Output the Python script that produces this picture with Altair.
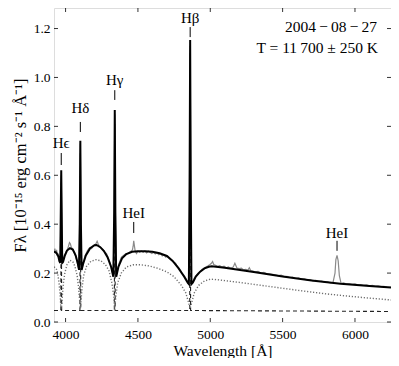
import altair as alt
import pandas as pd

# ---- data ----
model_wave = [3920, 3935, 3950, 3958, 3963, 3966, 3970, 3974, 3977, 3983, 3995, 4010, 4030, 4050,
              4070, 4085, 4093, 4098, 4102, 4106, 4111, 4120, 4140, 4170, 4200, 4214, 4240, 4265,
              4290, 4315, 4330, 4336, 4340, 4344, 4350, 4365, 4390, 4420, 4460, 4500, 4550, 4600,
              4650, 4700, 4740, 4780, 4820, 4845, 4852, 4857, 4861, 4865, 4870, 4880, 4900, 4930,
              4960, 4990, 5010, 5100, 5300, 5500, 5700, 5900, 6100, 6249]
model_flux = [0.288, 0.284, 0.268, 0.248, 0.242, 0.40, 0.621, 0.40, 0.242, 0.246, 0.272, 0.292,
              0.302, 0.296, 0.272, 0.238, 0.213, 0.40, 0.741, 0.40, 0.213, 0.235, 0.272, 0.302,
              0.314, 0.315, 0.306, 0.29, 0.265, 0.225, 0.185, 0.45, 0.867, 0.45, 0.185, 0.225,
              0.26, 0.278, 0.287, 0.289, 0.289, 0.287, 0.281, 0.27, 0.25, 0.22, 0.185, 0.16,
              0.155, 0.55, 1.153, 0.55, 0.155, 0.162, 0.186, 0.206, 0.219, 0.226, 0.228, 0.222,
              0.204, 0.186, 0.170, 0.156, 0.147, 0.141]

star_wave = [3920, 3935, 3945, 3955, 3962, 3966, 3970, 3974, 3978, 3985, 3995, 4010, 4030, 4050,
             4065, 4080, 4090, 4097, 4102, 4107, 4114, 4125, 4145, 4175, 4210, 4245, 4275, 4300,
             4320, 4332, 4340, 4348, 4360, 4385, 4420, 4470, 4520, 4580, 4640, 4700, 4750, 4800,
             4830, 4850, 4861, 4872, 4890, 4920, 4960, 5000, 5050, 5200, 5400, 5600, 5800, 6000,
             6249]
star_flux = [0.225, 0.22, 0.2, 0.16, 0.11, 0.07, 0.055, 0.07, 0.11, 0.16, 0.2, 0.235, 0.252, 0.247,
             0.227, 0.19, 0.14, 0.09, 0.055, 0.09, 0.14, 0.19, 0.228, 0.248, 0.255, 0.25, 0.235,
             0.21, 0.16, 0.11, 0.055, 0.11, 0.16, 0.2, 0.225, 0.234, 0.234, 0.229, 0.219, 0.205,
             0.185, 0.15, 0.12, 0.08, 0.055, 0.08, 0.12, 0.15, 0.168, 0.175, 0.173, 0.162, 0.146,
             0.130, 0.115, 0.103, 0.09]

disc_wave = [3920, 3967, 3970, 3973, 4099, 4102, 4105, 4337, 4340, 4343, 4858, 4861, 4864, 6249]
disc_flux = [0.047, 0.047, 0.57, 0.047, 0.047, 0.69, 0.047, 0.047, 0.81, 0.047, 0.047, 1.10,
             0.047, 0.043]

obs_wave = [3920, 3926, 3932, 3938, 3944, 3950, 3955, 3960, 3964, 3967, 3970, 3973, 3976, 3980,
            3986, 3992, 3998, 4005, 4012, 4020, 4027, 4033, 4040, 4047, 4055, 4062, 4070, 4078,
            4085, 4091, 4096, 4102, 4107, 4112, 4118, 4126, 4134, 4142, 4150, 4160, 4170, 4180,
            4190, 4200, 4210, 4218, 4225, 4233, 4242, 4252, 4262, 4272, 4283, 4293, 4303, 4313,
            4322, 4330, 4335, 4340, 4345, 4350, 4358, 4367, 4376, 4386, 4396, 4407, 4418, 4430,
            4442, 4454, 4462, 4467, 4471, 4476, 4481, 4490, 4500, 4512, 4524, 4536, 4548, 4560,
            4572, 4584, 4596, 4608, 4620, 4632, 4644, 4656, 4668, 4680, 4692, 4705, 4718, 4730,
            4745, 4760, 4775, 4790, 4805, 4820, 4835, 4846, 4852, 4856, 4861, 4866, 4870, 4878,
            4890, 4902, 4915, 4928, 4942, 4956, 4970, 4985, 4998, 5008, 5016, 5024, 5036, 5050,
            5065, 5080, 5095, 5110, 5125, 5140, 5155, 5164, 5170, 5176, 5185, 5200, 5215, 5230,
            5245, 5260, 5270, 5280, 5295, 5310, 5330, 5350, 5370, 5390, 5410, 5430, 5450, 5470,
            5490, 5510, 5530, 5550, 5570, 5590, 5610, 5630, 5650, 5670, 5690, 5710, 5730, 5750,
            5770, 5790, 5810, 5830, 5848, 5862, 5868, 5876, 5884, 5892, 5904, 5920, 5940, 5960,
            5980, 6000, 6020, 6040, 6060, 6080, 6100, 6120, 6140, 6160, 6180, 6200, 6220, 6249]
obs_flux = [0.285, 0.30, 0.28, 0.295, 0.27, 0.28, 0.255, 0.24, 0.26, 0.45, 0.60, 0.45, 0.25, 0.24,
            0.26, 0.275, 0.28, 0.29, 0.295, 0.31, 0.325, 0.32, 0.305, 0.30, 0.29, 0.285, 0.265,
            0.25, 0.23, 0.215, 0.35, 0.73, 0.35, 0.215, 0.23, 0.25, 0.27, 0.28, 0.29, 0.30, 0.305,
            0.30, 0.31, 0.315, 0.32, 0.33, 0.32, 0.31, 0.305, 0.30, 0.295, 0.285, 0.28, 0.265,
            0.25, 0.23, 0.205, 0.19, 0.40, 0.85, 0.40, 0.19, 0.21, 0.235, 0.25, 0.265, 0.27,
            0.275, 0.28, 0.28, 0.285, 0.29, 0.295, 0.31, 0.332, 0.31, 0.29, 0.28, 0.29, 0.285,
            0.29, 0.285, 0.29, 0.283, 0.29, 0.285, 0.28, 0.285, 0.278, 0.283, 0.275, 0.28, 0.27,
            0.275, 0.265, 0.27, 0.26, 0.255, 0.245, 0.24, 0.225, 0.215, 0.2, 0.19, 0.175, 0.16,
            0.155, 0.50, 1.13, 0.50, 0.155, 0.165, 0.18, 0.19, 0.2, 0.205, 0.215, 0.22, 0.225,
            0.23, 0.235, 0.24, 0.247, 0.235, 0.232, 0.228, 0.23, 0.225, 0.228, 0.222, 0.225, 0.22,
            0.222, 0.232, 0.24, 0.232, 0.22, 0.218, 0.22, 0.213, 0.215, 0.212, 0.222, 0.21, 0.208,
            0.205, 0.207, 0.2, 0.203, 0.198, 0.197, 0.195, 0.193, 0.19, 0.192, 0.186, 0.187,
            0.182, 0.184, 0.178, 0.18, 0.175, 0.176, 0.172, 0.173, 0.168, 0.17, 0.166, 0.167,
            0.163, 0.164, 0.16, 0.161, 0.2, 0.255, 0.272, 0.25, 0.19, 0.158, 0.16, 0.156, 0.157,
            0.154, 0.156, 0.152, 0.153, 0.15, 0.152, 0.148, 0.15, 0.146, 0.148, 0.145, 0.146,
            0.143, 0.142]

line_names = ["Hϵ", "Hδ", "Hγ", "Hβ", "HeI", "HeI"]
line_waves = [3970, 4102, 4340, 4861, 4471, 5876]
label_y = [0.732, 0.875, 0.989, 1.243, 0.446, 0.364]
mark_top = [0.691, 0.818, 0.948, 1.206, 0.409, 0.332]
mark_bottom = [0.642, 0.777, 0.908, 1.165, 0.364, 0.291]

x_ticks = [4000, 4500, 5000, 5500, 6000]
y_ticks = [0.0, 0.2, 0.4, 0.6, 0.8, 1.0, 1.2]

date_text = "2004\u2009−\u200908\u2009−\u200927"
temp_text = "T = 11\u2009700 ± 250 K"

XDOM = [3920, 6249]
YDOM = [0, 1.284]
W, H = 337, 314
FONT = "Liberation Serif"

model = pd.DataFrame({"w": model_wave, "f": model_flux})
star = pd.DataFrame({"w": star_wave, "f": star_flux})
disc = pd.DataFrame({"w": disc_wave, "f": disc_flux})
obs = pd.DataFrame({"w": obs_wave, "f": obs_flux})
lines = pd.DataFrame({"name": line_names, "w": line_waves, "ly": label_y,
                      "t": mark_top, "b": mark_bottom})
xt = pd.DataFrame({"v": x_ticks})
yt = pd.DataFrame({"v": y_ticks})

xs = alt.Scale(domain=XDOM, nice=False, zero=False)
ys = alt.Scale(domain=YDOM, nice=False, zero=False)

xaxis = alt.Axis(values=x_ticks, format="d", title="Wavelength [Å]", grid=False, ticks=False,
                 tickSize=0, domain=False, labelFont=FONT, labelFontSize=13.5, labelColor="black",
                 labelPadding=5, titleFont=FONT, titleFontSize=15.5, titleFontWeight="normal",
                 titleColor="black", titlePadding=3)
yaxis = alt.Axis(values=y_ticks, format=".1f", title="Fλ [10⁻¹⁵ erg cm⁻² s⁻¹ Å⁻¹]", grid=False,
                 ticks=False, tickSize=0, domain=False, labelFont=FONT, labelFontSize=13.5,
                 labelColor="black", labelPadding=4, titleFont=FONT, titleFontSize=16.5,
                 titleFontWeight="normal", titleColor="black", titlePadding=5)

X = alt.X("w:Q", scale=xs, axis=xaxis)
Y = alt.Y("f:Q", scale=ys, axis=yaxis)

disc_l = alt.Chart(disc).mark_line(color="#222222", strokeWidth=1.1, strokeDash=[4, 3],
                                   clip=True).encode(x=X, y=Y, order="w:Q")
star_l = alt.Chart(star).mark_line(color="#6e6e6e", strokeWidth=1.4, strokeDash=[1.2, 1.8],
                                   clip=True).encode(x=alt.X("w:Q", scale=xs), y=alt.Y("f:Q", scale=ys))
obs_l = alt.Chart(obs).mark_line(color="#8a8a8a", strokeWidth=1.2, clip=True).encode(
    x=alt.X("w:Q", scale=xs), y=alt.Y("f:Q", scale=ys))
model_l = alt.Chart(model).mark_line(color="black", strokeWidth=2, clip=True).encode(
    x=alt.X("w:Q", scale=xs), y=alt.Y("f:Q", scale=ys))

labels = alt.Chart(lines).mark_text(font=FONT, fontSize=15, color="black", baseline="middle",
                                    align="center").encode(
    x=alt.X("w:Q", scale=xs), y=alt.Y("ly:Q", scale=ys), text="name:N")
marks = alt.Chart(lines).mark_rule(color="black", strokeWidth=1).encode(
    x=alt.X("w:Q", scale=xs), y=alt.Y("t:Q", scale=ys), y2="b:Q")

tb = alt.Chart(xt).mark_rule(color="black", strokeWidth=0.8).encode(
    x=alt.X("v:Q", scale=xs), y=alt.value(H), y2=alt.value(H - 4))
tt = alt.Chart(xt).mark_rule(color="black", strokeWidth=0.8).encode(
    x=alt.X("v:Q", scale=xs), y=alt.value(0), y2=alt.value(4))
tl = alt.Chart(yt).mark_rule(color="black", strokeWidth=0.8).encode(
    y=alt.Y("v:Q", scale=ys), x=alt.value(0), x2=alt.value(4))
tr = alt.Chart(yt).mark_rule(color="black", strokeWidth=0.8).encode(
    y=alt.Y("v:Q", scale=ys), x=alt.value(W), x2=alt.value(W - 4))

date_t = alt.Chart(pd.DataFrame({"t": [date_text]})).mark_text(
    font=FONT, fontSize=15.5, color="black", align="right", baseline="middle").encode(
    x=alt.value(323), y=alt.value(19), text="t:N")
temp_t = alt.Chart(pd.DataFrame({"t": [temp_text]})).mark_text(
    font=FONT, fontSize=15.5, color="black", align="right", baseline="middle").encode(
    x=alt.value(324), y=alt.value(40), text="t:N")

chart = alt.layer(disc_l, star_l, obs_l, model_l, marks, labels, tb, tt, tl, tr, date_t, temp_t).properties(
    width=W, height=H,
    autosize=alt.AutoSizeParams(type="none"),
    padding={"left": 46, "top": 0, "right": 0, "bottom": 36},
).configure_view(stroke="black", strokeWidth=1).configure(background="white")

chart.save("out.html", embed_options={"renderer": "svg", "actions": False})
